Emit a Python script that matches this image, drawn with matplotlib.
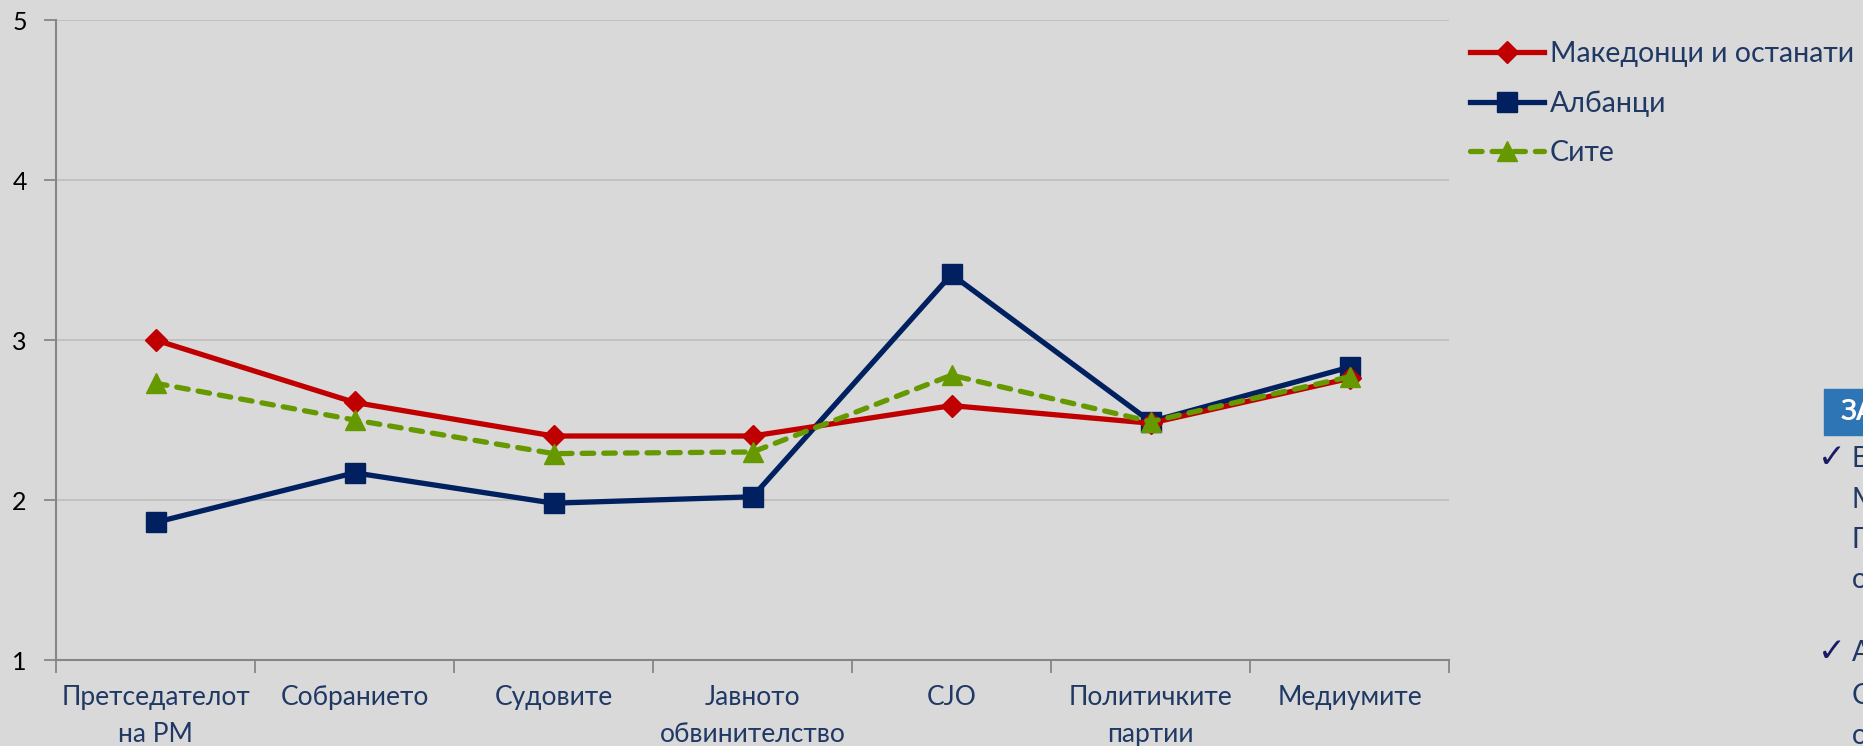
import numpy as np
import matplotlib
matplotlib.use("Agg")
from matplotlib import pyplot as plt

# categories (x axis) and series values
categories = ['Претседателот\nна РМ', 'Собранието', 'Судовите', 'Јавното\nобвинителство',
              'CJO', 'Политичките\nпартии', 'Медиумите']
makedonci = [3.00, 2.61, 2.40, 2.40, 2.59, 2.48, 2.76]
albanci = [1.86, 2.17, 1.98, 2.02, 3.41, 2.49, 2.83]
site = [2.73, 2.50, 2.29, 2.30, 2.78, 2.49, 2.77]
yticks = [1, 2, 3, 4, 5]

# side panel fragments (cut off at the right edge in the original)
side_title = 'ЗА'
side_lines_1 = ['В', 'М', 'П', 'о']
side_lines_2 = ['А', 'С', 'о']

BG = '#d9d9d9'
NAVY = '#1f3864'
plt.rcParams['font.family'] = ['Lato', 'DejaVu Sans']

fig = plt.figure(figsize=(18.63, 7.46), dpi=100, facecolor=BG)
ax = fig.add_axes([56 / 1863, 86 / 746, (1449 - 56) / 1863, (660 - 20) / 746])
ax.set_facecolor(BG)

x = np.arange(len(categories)) + 0.5
ax.plot(x, makedonci, color='#c00000', lw=3.8, marker='D', ms=11, label='Македонци и останати', zorder=4)
ax.plot(x, albanci, color='#002060', lw=3.8, marker='s', ms=14, label='Албанци', zorder=3)
ax.plot(x, site, color='#669900', lw=3.8, marker='^', ms=14, dashes=(2.2, 1.9),
        dash_capstyle='round', label='Сите', zorder=5)

ax.set_xlim(0, len(categories))
ax.set_ylim(1, 5)
ax.set_yticks(yticks)
ax.set_yticklabels([str(v) for v in yticks], fontsize=18, color='black')
ax.set_xticks(np.arange(len(categories) + 1))
ax.set_xticklabels([])
ax.set_xticks(x, minor=True)
ax.set_xticklabels(categories, minor=True, fontsize=19, color=NAVY, linespacing=1.62,
                   va='top')
ax.tick_params(axis='x', which='minor', length=0, pad=18)
ax.tick_params(axis='x', which='major', length=9, width=1.3, color='#868686', direction='out')
ax.tick_params(axis='y', length=9, width=1.3, color='#868686', direction='out', pad=12)

ax.grid(axis='y', color='#bfbfbf', lw=1.3)
ax.set_axisbelow(True)
for s in ['top', 'right']:
    ax.spines[s].set_visible(False)
for s in ['left', 'bottom']:
    ax.spines[s].set_color('#868686')
    ax.spines[s].set_linewidth(1.5)

leg = ax.legend(loc='upper left', bbox_to_anchor=(1470 / 1863, 1 - 41 / 746),
                bbox_transform=fig.transFigure, frameon=False, fontsize=20.5,
                handlelength=2.6, handletextpad=0.2, labelspacing=0.82,
                borderpad=0, borderaxespad=0)
for t in leg.get_texts():
    t.set_color(NAVY)

# cut-off side panel
fig.patches.append(plt.Rectangle((1824 / 1863, 1 - 435 / 746), 0.05, 46 / 746,
                                 transform=fig.transFigure, color='#2e75b6', zorder=1))
fig.text(1841 / 1863, 1 - 412 / 746, side_title, color='white', fontsize=20,
         fontweight='bold', va='center', ha='left')
ys1 = [459, 500, 540, 580]
ys2 = [653, 696, 736]
fig.text(1818 / 1863, 1 - 458 / 746, '✓', color='#1a1a66', fontsize=24, va='center',
         family='DejaVu Sans', fontweight='bold')
fig.text(1818 / 1863, 1 - 652 / 746, '✓', color='#1a1a66', fontsize=24, va='center',
         family='DejaVu Sans', fontweight='bold')
for t, yy in zip(side_lines_1, ys1):
    fig.text(1852 / 1863, 1 - yy / 746, t, color=NAVY, fontsize=20, va='center')
for t, yy in zip(side_lines_2, ys2):
    fig.text(1852 / 1863, 1 - yy / 746, t, color=NAVY, fontsize=20, va='center')

fig.savefig('out.png', dpi=100, facecolor=BG)
